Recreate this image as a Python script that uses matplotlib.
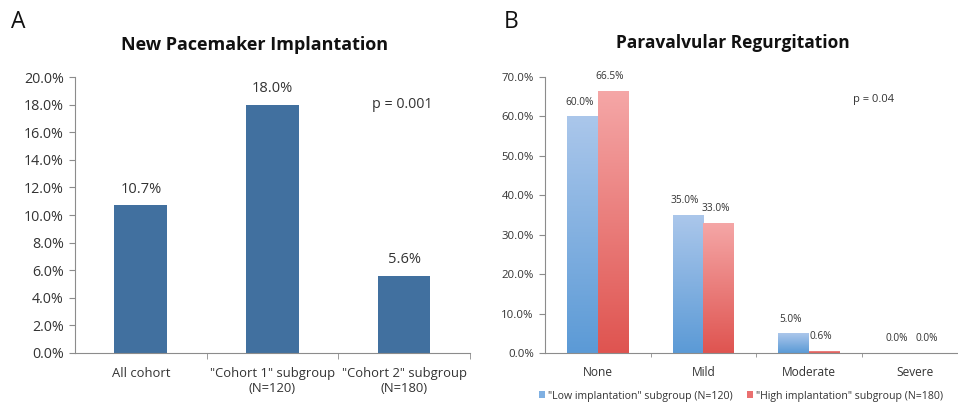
import numpy as np
import matplotlib
matplotlib.use("Agg")
import matplotlib.pyplot as plt
from matplotlib.colors import LinearSegmentedColormap
from matplotlib.patches import Patch

plt.rcParams['font.family'] = ['Open Sans', 'DejaVu Sans']

# ---- data ----
a_categories = ['All cohort', '"Cohort 1" subgroup\n(N=120)', '"Cohort 2" subgroup\n(N=180)']
a_values = [10.7, 18.0, 5.6]
a_ticks = [0, 2, 4, 6, 8, 10, 12, 14, 16, 18, 20]

b_categories = ['None', 'Mild', 'Moderate', 'Severe']
b_low = [60.0, 35.0, 5.0, 0.0]
b_high = [66.5, 33.0, 0.6, 0.0]
b_ticks = [0, 10, 20, 30, 40, 50, 60, 70]
b_series = ['"Low implantation" subgroup (N=120)', '"High implantation" subgroup (N=180)']

W, H = 958, 411
fig = plt.figure(figsize=(W / 100, H / 100), dpi=100)

def ax_rect(x0, x1, y_top, y_bot):
    return [x0 / W, 1 - y_bot / H, (x1 - x0) / W, (y_bot - y_top) / H]

txt = '#333333'
spine_c = '#8c8c8c'

# ---- Panel A ----
axA = fig.add_axes(ax_rect(75, 470, 77, 353))
xa = np.arange(len(a_categories))
axA.bar(xa, a_values, width=0.4, color='#41709f', zorder=2)
for x, v in zip(xa, a_values):
    axA.text(x, v + 0.6, f'{v:.1f}%', ha='center', va='bottom', fontsize=10.5, color=txt)
axA.set_xlim(-0.5, 2.5)
axA.set_ylim(0, 20)
axA.set_yticks(a_ticks)
axA.set_yticklabels([f'{t:.1f}%' for t in a_ticks], fontsize=10.3, color=txt)
axA.set_xticks(xa)
axA.set_xticklabels(a_categories, fontsize=9.4, color=txt)
axA.tick_params(axis='x', length=0, pad=10)
axA.set_xticks([0.5, 1.5, 2.5], minor=True)
axA.tick_params(axis='x', which='minor', length=4, color=spine_c)
axA.tick_params(axis='y', length=4, color=spine_c, pad=4)
for s in ['top', 'right']:
    axA.spines[s].set_visible(False)
for s in ['left', 'bottom']:
    axA.spines[s].set_color(spine_c)
axA.text(1.755, 18.0, 'p = 0.001', fontsize=10.3, color=txt, va='center')
fig.text(255 / W, 1 - 45 / H, 'New Pacemaker Implantation', ha='center', va='center',
         fontsize=13, fontweight='bold', color='#111111')
fig.text(11 / W, 1 - 22 / H, 'A', ha='left', va='center', fontsize=16.5, color='#111111')

# ---- Panel B ----
axB = fig.add_axes(ax_rect(545, 957, 77, 353))
xb = np.arange(len(b_categories))
bw = 0.29
blue_cm = LinearSegmentedColormap.from_list('bl', ['#5b9ad6', '#abc7eb'])
red_cm = LinearSegmentedColormap.from_list('rd', ['#df5450', '#f5a7a7'])
grad = np.linspace(0, 1, 256).reshape(-1, 1)

def grad_bars(ax, xs, vals, cmap):
    bars = ax.bar(xs, vals, width=bw, color='none', edgecolor='none', zorder=2)
    for b in bars:
        h = b.get_height()
        if h <= 0:
            continue
        x0 = b.get_x()
        im = ax.imshow(grad, cmap=cmap, origin='lower', aspect='auto',
                       extent=[x0, x0 + b.get_width(), 0, h], zorder=2)
        im.set_clip_path(b)
    return bars

grad_bars(axB, xb - bw / 2, b_low, blue_cm)
grad_bars(axB, xb + bw / 2, b_high, red_cm)
for x, v in zip(xb, b_low):
    axB.text(x - bw / 2 - 0.03, v + 2.2, f'{v:.1f}%', ha='center', va='bottom', fontsize=7.3, color=txt)
for x, v in zip(xb, b_high):
    axB.text(x + bw / 2 - 0.03, v + 2.2, f'{v:.1f}%', ha='center', va='bottom', fontsize=7.3, color=txt)
axB.set_xlim(-0.5, 3.4)
axB.set_ylim(0, 70)
axB.set_yticks(b_ticks)
axB.set_yticklabels([f'{t:.1f}%' for t in b_ticks], fontsize=8.2, color=txt)
axB.set_xticks(xb)
axB.set_xticklabels(b_categories, fontsize=8.6, color=txt)
axB.tick_params(axis='x', length=0, pad=9)
axB.set_xticks([0.5, 1.5, 2.5], minor=True)
axB.tick_params(axis='x', which='minor', length=3, color=spine_c)
axB.tick_params(axis='y', length=4, color=spine_c, pad=4)
for s in ['top', 'right']:
    axB.spines[s].set_visible(False)
for s in ['left', 'bottom']:
    axB.spines[s].set_color(spine_c)
axB.text(2.42, 64.2, 'p = 0.04', fontsize=8, color=txt, va='center')
fig.text(733 / W, 1 - 43 / H, 'Paravalvular Regurgitation', ha='center', va='center',
         fontsize=12.5, fontweight='bold', color='#111111')
fig.text(504 / W, 1 - 22 / H, 'B', ha='left', va='center', fontsize=16.5, color='#111111')

handles = [Patch(facecolor='#7fb0e2', edgecolor='none'), Patch(facecolor='#ea7070', edgecolor='none')]
fig.legend(handles, b_series, loc='center', bbox_to_anchor=(741 / W, 1 - 396 / H), ncol=2,
           frameon=False, fontsize=7.6, handlelength=0.6, handleheight=0.6, handletextpad=0.3,
           columnspacing=1.3, labelcolor=txt, borderpad=0.1)

fig.savefig('out.png', dpi=100, facecolor='white')
